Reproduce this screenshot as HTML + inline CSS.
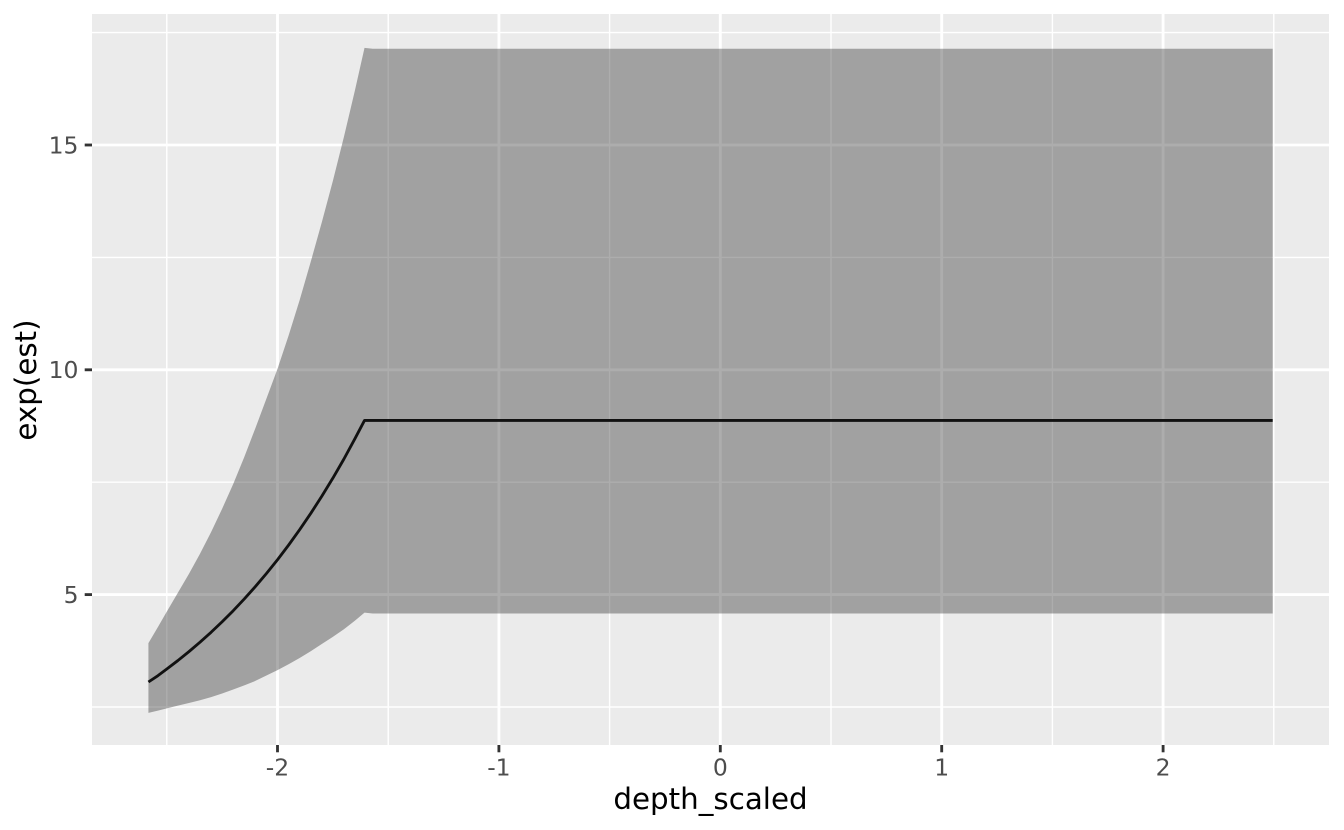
<!DOCTYPE html>
<html>
<head>
<meta charset="utf-8">
<title>exp(est) vs depth_scaled</title>
<style>
html,body{margin:0;padding:0;background:#fff;width:1344px;height:830px;overflow:hidden}
svg{display:block}
text{font-family:"DejaVu Sans","Liberation Sans",sans-serif}
</style>
</head>
<body>
<svg id="chart" width="1344" height="830" viewBox="0 0 1344 830" xmlns="http://www.w3.org/2000/svg"></svg>
<script>
const xValues = [-2.583,-2.54,-2.5,-2.45,-2.4,-2.35,-2.3,-2.25,-2.2,-2.15,-2.1,-2.05,-2.0,-1.95,-1.9,-1.85,-1.8,-1.75,-1.7,-1.65,-1.607,-1.57,2.495];
const estValues = [3.056,3.197,3.345,3.533,3.732,3.941,4.162,4.396,4.642,4.903,5.178,5.469,5.776,6.100,6.443,6.805,7.187,7.590,8.016,8.470,8.873,8.873,8.873];
const lowerValues = [2.37,2.42,2.47,2.53,2.59,2.65,2.72,2.80,2.89,2.98,3.08,3.20,3.32,3.45,3.59,3.74,3.90,4.06,4.23,4.42,4.60,4.58,4.58];
const upperValues = [3.92,4.28,4.62,5.04,5.46,5.91,6.39,6.91,7.46,8.06,8.70,9.36,10.02,10.76,11.55,12.40,13.28,14.20,15.18,16.22,17.16,17.14,17.14];
const xMajorTicks = [-2,-1,0,1,2];
const xMinorTicks = [-2.5,-1.5,-0.5,0.5,1.5,2.5];
const yMajorTicks = [5,10,15];
const yMinorTicks = [2.5,7.5,12.5,17.5];
const xTickLabels = ["-2","-1","0","1","2"];
const yTickLabels = ["5","10","15"];
const xAxisTitle = "depth_scaled";
const yAxisTitle = "exp(est)";

const NS = "http://www.w3.org/2000/svg";
const svg = document.getElementById("chart");
const panelLeft = 92, panelRight = 1329, panelTop = 14, panelBottom = 745;
function xScale(v){ return 720.3 + 221.4 * v; }
function yScale(v){ return 594.6 - 44.96 * (v - 5); }
function make(tag, attrs, parent){
  const el = document.createElementNS(NS, tag);
  for (const k in attrs) el.setAttribute(k, attrs[k]);
  (parent || svg).appendChild(el);
  return el;
}

const panel = make("rect", {x:panelLeft, y:panelTop, width:panelRight-panelLeft, height:panelBottom-panelTop, fill:"#EBEBEB"});



yMinorTicks.forEach(function(v){
  const l = make("line", {x1:panelLeft, x2:panelRight, y1:yScale(v), y2:yScale(v), stroke:"#fff", "stroke-width":1.42});
  
  
});
xMinorTicks.forEach(function(v){
  const l = make("line", {x1:xScale(v), x2:xScale(v), y1:panelTop, y2:panelBottom, stroke:"#fff", "stroke-width":1.42});
  
  
});
yMajorTicks.forEach(function(v){
  const l = make("line", {x1:panelLeft, x2:panelRight, y1:yScale(v), y2:yScale(v), stroke:"#fff", "stroke-width":2.84});
  
  
});
xMajorTicks.forEach(function(v){
  const l = make("line", {x1:xScale(v), x2:xScale(v), y1:panelTop, y2:panelBottom, stroke:"#fff", "stroke-width":2.84});
  
  
});

const upperPts = xValues.map(function(x,i){ return xScale(x).toFixed(2)+","+yScale(upperValues[i]).toFixed(2); });
const lowerPts = xValues.map(function(x,i){ return xScale(x).toFixed(2)+","+yScale(lowerValues[i]).toFixed(2); }).reverse();
const ribbon = make("polygon", {points:upperPts.concat(lowerPts).join(" "), fill:"#333333", "fill-opacity":0.4});



const estPts = xValues.map(function(x,i){ return xScale(x).toFixed(2)+","+yScale(estValues[i]).toFixed(2); });
const estLine = make("polyline", {points:estPts.join(" "), fill:"none", stroke:"#111", "stroke-width":2.84, "stroke-linejoin":"round"});



xMajorTicks.forEach(function(v,i){
  const t = make("line", {x1:xScale(v), x2:xScale(v), y1:panelBottom, y2:panelBottom+7.3, stroke:"#333333", "stroke-width":2.84});
  
  
  const lab = make("text", {x:xScale(v), y:775.5, "text-anchor":"middle", "font-size":23.47, fill:"#4D4D4D"});
  
  
  lab.textContent = xTickLabels[i];
});
yMajorTicks.forEach(function(v,i){
  const t = make("line", {x1:panelLeft-7.3, x2:panelLeft, y1:yScale(v), y2:yScale(v), stroke:"#333333", "stroke-width":2.84});
  
  
  const lab = make("text", {x:78.5, y:yScale(v)+8.4, "text-anchor":"end", "font-size":23.47, fill:"#4D4D4D"});
  
  
  lab.textContent = yTickLabels[i];
});

const xTitle = make("text", {x:710.5, y:809, "text-anchor":"middle", "font-size":29.33, fill:"#000"});


xTitle.textContent = xAxisTitle;

const yTitle = make("text", {transform:"translate(36,380) rotate(-90)", x:0, y:0, "text-anchor":"middle", "font-size":29.33, fill:"#000"});


yTitle.textContent = yAxisTitle;
</script>
</body>
</html>
